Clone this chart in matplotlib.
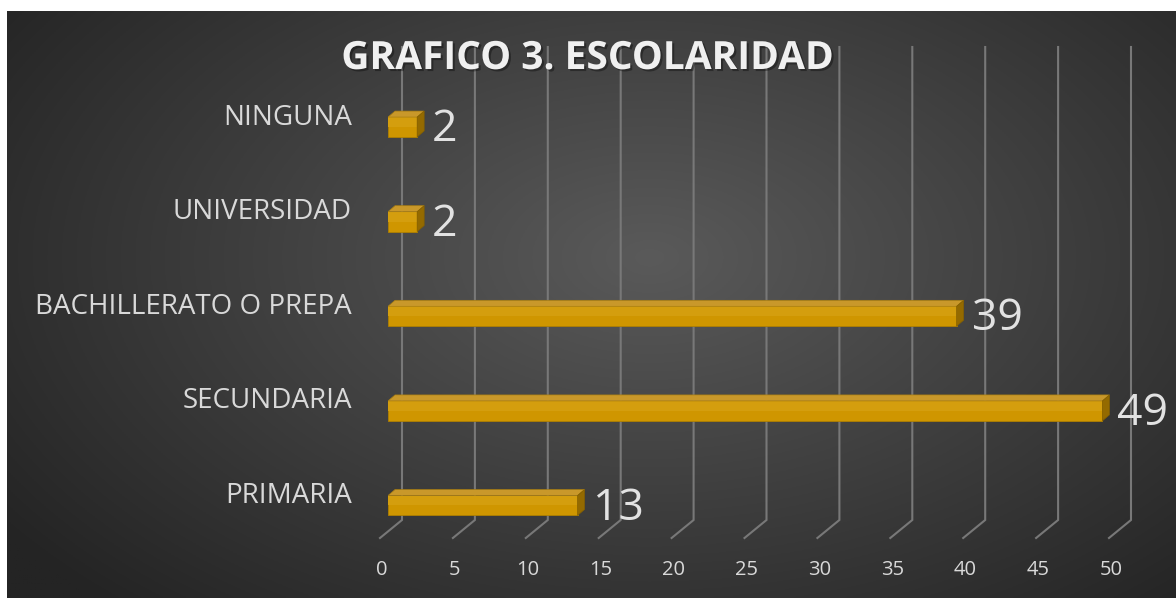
import numpy as np
import matplotlib.pyplot as plt
import matplotlib.patheffects as pe
from matplotlib import transforms
from matplotlib.patches import Polygon

plt.rcParams['font.family'] = ['Open Sans', 'DejaVu Sans']

# data
categories = ['PRIMARIA', 'SECUNDARIA', 'BACHILLERATO O PREPA', 'UNIVERSIDAD', 'NINGUNA']
values = [13, 49, 39, 2, 2]
x_ticks = list(range(0, 55, 5))
title = 'GRAFICO 3. ESCOLARIDAD'

W, H = 1176, 598
fig = plt.figure(figsize=(W / 100, H / 100), dpi=100)
fig.patch.set_facecolor('white')

# dark radial gradient background
bg = fig.add_axes([7 / W, 0, 1 - 7 / W, 1 - 11 / H])
yy, xx = np.mgrid[0:1:300j, 0:1:600j]
r = np.sqrt(((xx - 0.55) / 0.8) ** 2 + ((yy - 0.42) / 0.95) ** 2)
shade = (0x5a - (0x5a - 0x24) * np.clip(r / 0.85, 0, 1)) / 255
bg.imshow(np.dstack([shade, shade, shade]), aspect='auto', extent=[0, 1, 0, 1])
bg.axis('off')

# main plot area (front plane)
ax = fig.add_axes([388 / W, 1 - 552.8 / H, (1117 - 388) / W, (552.8 - 79.7) / H])
ax.patch.set_alpha(0)
ax.set_xlim(0, 50)
ax.set_ylim(-0.5, 4.5)
for s in ax.spines.values():
    s.set_visible(False)


def img_to_data(xi, yi):
    return ax.transData.inverted().transform((xi, H - yi))


# 3D style gridlines: back wall + floor diagonal
for v in x_ticks:
    xf = ax.transData.transform((v, 0))[0]
    pts = [img_to_data(xf + 14, 47), img_to_data(xf + 14, 520), img_to_data(xf - 8, 538)]
    ax.plot([p[0] for p in pts], [p[1] for p in pts], color='#787878', lw=1.5,
            clip_on=False, zorder=1, solid_joinstyle='miter')

# bars with top and side faces
bar_h = 0.21
sx = ax.transData.transform((1, 0))[0] - ax.transData.transform((0, 0))[0]
sy = ax.transData.transform((0, 1))[1] - ax.transData.transform((0, 0))[1]
dx, dy = 7 / sx, 6 / sy
ypos = np.arange(len(categories))
ax.barh(ypos, values, height=bar_h, color='#cf9600', edgecolor='#b08000', lw=0.6, zorder=3)
for y, v in zip(ypos, values):
    top = y + bar_h / 2
    bot = y - bar_h / 2
    # slightly lighter upper part of the front face
    ax.barh(y + bar_h / 4, v, height=bar_h / 2, color='#d49e0e', lw=0, zorder=3)
    ax.add_patch(Polygon([(0, top), (v, top), (v + dx, top + dy), (dx, top + dy)],
                         closed=True, facecolor='#c9982a', edgecolor='#a87d10', lw=0.5, zorder=3))
    ax.add_patch(Polygon([(v, bot), (v, top), (v + dx, top + dy), (v + dx, bot + dy)],
                         closed=True, facecolor='#946a00', edgecolor='#856000', lw=0.5, zorder=3))
    ax.annotate(str(v), xy=(v, y), xytext=(15, -3), textcoords='offset pixels',
                ha='left', va='center', fontsize=32, color='#e2e2e2', zorder=4)

# axis labels
ax.set_xticks(x_ticks)
ax.set_yticks(ypos, categories)
ax.tick_params(axis='x', length=0, pad=5, labelsize=14.5, labelcolor='#d9d9d9')
ax.tick_params(axis='y', length=0, pad=26, labelsize=20, labelcolor='#d9d9d9')
for lab in ax.get_xticklabels():
    lab.set_transform(lab.get_transform() + transforms.ScaledTranslation(-6 / 100, 0, fig.dpi_scale_trans))
for lab in ax.get_yticklabels():
    lab.set_transform(lab.get_transform() + transforms.ScaledTranslation(0, 13 / 100, fig.dpi_scale_trans))

fig.text(587.5 / W, 1 - 58.5 / H, title, ha='center', va='center', fontsize=28,
         fontweight='bold', color='#f0f0f0', zorder=5,
         path_effects=[pe.withSimplePatchShadow(offset=(1.5, -1.5), shadow_rgbFace='black', alpha=0.35)])

fig.savefig('out.png', dpi=100)
